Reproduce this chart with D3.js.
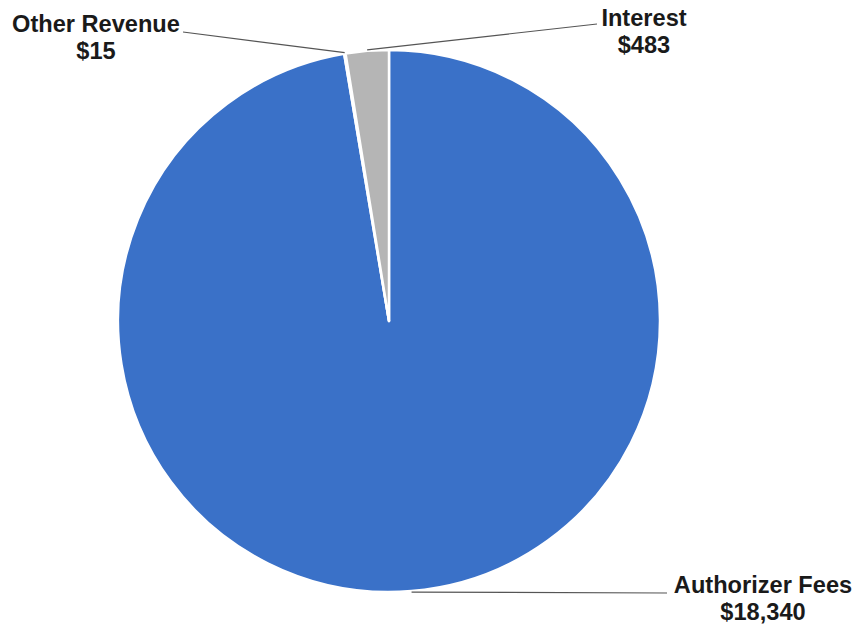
<!DOCTYPE html>
<html>
<head>
<meta charset="utf-8">
<script src="https://cdn.jsdelivr.net/npm/d3@7"></script>
<style>
  html, body { margin: 0; padding: 0; background: #fff; }
  svg { display: block; }
  text { font-family: "Liberation Sans", Arial, sans-serif; font-weight: bold; fill: #1a1a1a; }
</style>
</head>
<body>
<svg id="chart" width="854" height="629"></svg>
<script>
// Revenue sources, in clockwise order from 12 o'clock
const categories = ["Authorizer Fees", "Other Revenue", "Interest"];
const values = [18340, 15, 483];
const valueLabels = ["$18,340", "$15", "$483"];
const colors = ["#3a71c8", "#b5b5b5", "#b5b5b5"];

// Where each label sits, and which side its leader line meets
const labelPos = [
  { x: 763, y: 593, lineX: 667, lineY: 593 },
  { x: 96,  y: 32,  lineX: 183, lineY: 32 },
  { x: 644, y: 26,  lineX: 597, lineY: 24 }
];

const svg = d3.select("#chart");
const cx = 389, cy = 321, r = 271;

const pie = d3.pie().sort(null).value(d => d.value);
const arcs = pie(categories.map((c, i) => ({ name: c, value: values[i], i })));
const arc = d3.arc().innerRadius(0).outerRadius(r);
const g = svg.append("g").attr("transform", `translate(${cx},${cy})`);

g.selectAll("path.slice")
  .data(arcs)
  .join("path")
  .attr("class", "slice")
  .attr("d", arc)
  .attr("fill", d => colors[d.data.i])
  .attr("stroke", "#fff")
  .attr("stroke-width", 2.5)
  .attr("stroke-linejoin", "round");

// Leader lines from the middle of each slice's outer edge to its label
const edge = d3.arc().innerRadius(r + 1).outerRadius(r + 1);
svg.selectAll("line.leader")
  .data(arcs)
  .join("line")
  .attr("class", "leader")
  .attr("x1", d => cx + edge.centroid(d)[0])
  .attr("y1", d => cy + edge.centroid(d)[1])
  .attr("x2", d => labelPos[d.data.i].lineX)
  .attr("y2", d => labelPos[d.data.i].lineY)
  .attr("stroke", "#555")
  .attr("stroke-width", 1.2);

const labels = svg.selectAll("g.label")
  .data(arcs)
  .join("g")
  .attr("class", "label")
  .attr("transform", d => `translate(${labelPos[d.data.i].x},${labelPos[d.data.i].y})`);

labels.append("text")
  .attr("text-anchor", "middle")
  .attr("font-size", 23.6)
  .text(d => d.data.name);

labels.append("text")
  .attr("text-anchor", "middle")
  .attr("font-size", 23.6)
  .attr("y", 27)
  .text(d => valueLabels[d.data.i]);
</script>
</body>
</html>
